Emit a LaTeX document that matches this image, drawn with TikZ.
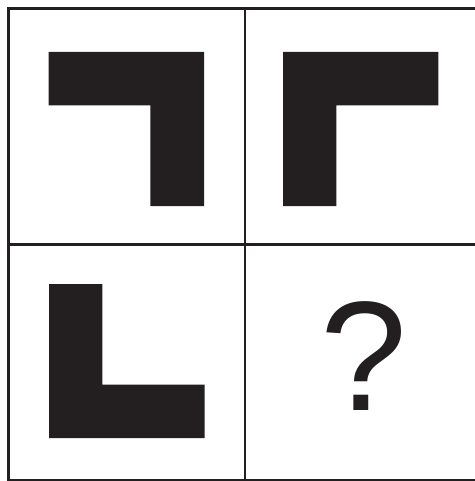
\documentclass[tikz,border=0pt]{standalone}
\usepackage{fontspec}
\setsansfont{Liberation Sans}
\usepackage{xcolor}
\usepackage{tikz}
\usetikzlibrary{positioning}
\definecolor{puzzledark}{HTML}{231F20}
\tikzset{
  gridline/.style={draw=puzzledark, line width=2.4pt},
  block/.style={fill=puzzledark, draw=none},
  qmark/.style={font=\sffamily\fontsize{156}{156}\selectfont, text=puzzledark, inner sep=0pt},
}

\begin{document}
\begin{tikzpicture}[x=1pt, y=-1pt]
  \useasboundingbox (0,0) rectangle (474,481);
  % grid of four cells
  \draw[gridline] (8.5,8.5) rectangle (482,480);
  \draw[gridline] (245,8.5) -- (245,480);
  \draw[gridline] (8.5,244.5) -- (482,244.5);

  % top left
  \fill[block] (48.7,52) -| (204,206) -| (150.3,105.3) -| cycle;
  % top right
  \fill[block] (283,52) -| (438.3,105.3) -| (336.3,206) -| cycle;
  % bottom left
  \fill[block] (49,284) |- (204.7,438) |- (102.3,384.7) |- cycle;

  \node[qmark] (ask) at (363.5,356.5) {?};
\end{tikzpicture}
\end{document}
